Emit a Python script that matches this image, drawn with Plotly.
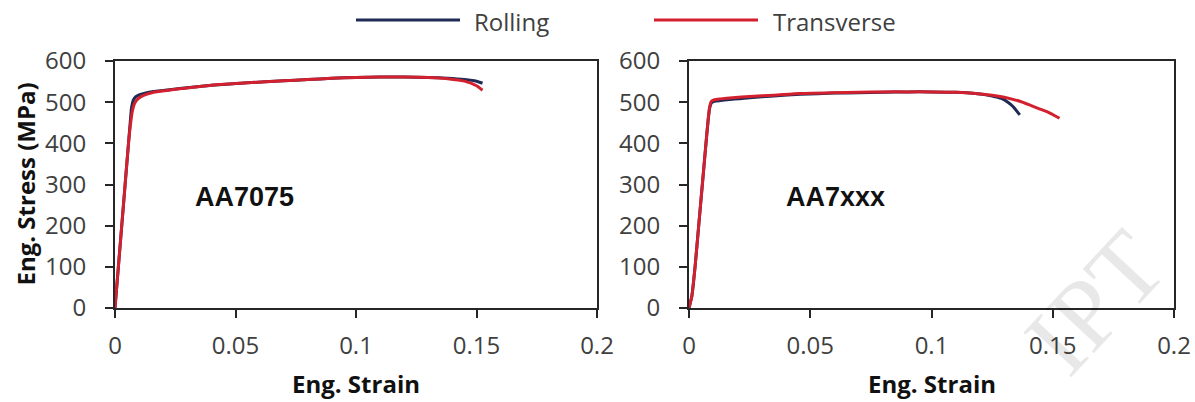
import plotly.graph_objects as go

# ---- AA7075 tensile curves ----
aa7075_rolling_strain = [0, 0.0014, 0.0028, 0.0042, 0.0056, 0.0063, 0.0069, 0.0076, 0.0085, 0.0100,
                         0.0124, 0.016, 0.0207, 0.0277, 0.04, 0.055, 0.07, 0.08, 0.09, 0.10,
                         0.11, 0.12, 0.13, 0.138, 0.145, 0.150, 0.1525]
aa7075_rolling_stress = [0, 100, 200, 300, 400, 450, 488, 505, 513, 518,
                         522, 526, 529, 534, 541, 547, 552, 555, 558, 560,
                         561, 561, 560, 558, 555, 551, 546]

aa7075_transverse_strain = [0, 0.0014, 0.0028, 0.0042, 0.0056, 0.0064, 0.0072, 0.0082, 0.0095, 0.011,
                            0.013, 0.016, 0.0207, 0.0277, 0.04, 0.055, 0.07, 0.08, 0.09, 0.10,
                            0.11, 0.12, 0.13, 0.138, 0.145, 0.150, 0.1525]
aa7075_transverse_stress = [0, 100, 200, 300, 400, 445, 478, 498, 508, 514,
                            519, 524, 528, 533, 541, 547, 552, 555, 558, 560,
                            561, 561, 560, 557, 551, 540, 529]

# ---- AA7xxx tensile curves ----
aa7xxx_rolling_strain = [0, 0.0012, 0.0025, 0.004, 0.0055, 0.007, 0.0078, 0.0085, 0.0092, 0.0105,
                         0.013, 0.018, 0.025, 0.035, 0.046, 0.06, 0.07, 0.08, 0.09, 0.10,
                         0.11, 0.12, 0.125, 0.1288, 0.1315, 0.1337, 0.1364]
aa7xxx_rolling_stress = [0, 30, 100, 200, 300, 400, 450, 485, 498, 502,
                         504, 507, 511, 515, 519, 522, 523, 524, 525, 525,
                         524, 520, 515, 509, 500, 489, 469]

aa7xxx_transverse_strain = [0, 0.0012, 0.0025, 0.004, 0.0055, 0.007, 0.0078, 0.0085, 0.0092, 0.0105,
                            0.013, 0.018, 0.025, 0.035, 0.046, 0.06, 0.07, 0.08, 0.09, 0.10,
                            0.11, 0.12, 0.125, 0.130, 0.137, 0.144, 0.148, 0.1528]
aa7xxx_transverse_stress = [0, 30, 100, 200, 300, 400, 452, 488, 502, 506,
                            508, 511, 514, 517, 521, 523, 524, 525, 525, 525,
                            524, 520, 517, 512, 501, 485, 476, 461]

x_ticks = [0, 0.05, 0.1, 0.15, 0.2]
x_tick_text = ["0", "0.05", "0.1", "0.15", "0.2"]
y_ticks = [0, 100, 200, 300, 400, 500, 600]

series_names = ["Rolling", "Transverse"]
ROLL_COLOR = "#1f2b55"
TRANS_COLOR = "#d2202f"

W, H = 1195, 402
TICK_FONT = dict(family="Open Sans", size=24, color="#404040")
TITLE_FONT = dict(family="Open Sans", size=24, color="#111111")


def px_x(v):
    return v / W


def px_y(v):
    return 1 - v / H


fig = go.Figure()

panels = [
    ("x", "y", aa7075_rolling_strain, aa7075_rolling_stress, aa7075_transverse_strain, aa7075_transverse_stress),
    ("x2", "y2", aa7xxx_rolling_strain, aa7xxx_rolling_stress, aa7xxx_transverse_strain, aa7xxx_transverse_stress),
]
for xa, ya, rx, ry, tx, ty in panels:
    fig.add_trace(go.Scatter(x=rx, y=ry, mode="lines", name=series_names[0], xaxis=xa, yaxis=ya,
                             line=dict(color=ROLL_COLOR, width=3, shape="spline", smoothing=0.6),
                             showlegend=False))
    fig.add_trace(go.Scatter(x=tx, y=ty, mode="lines", name=series_names[1], xaxis=xa, yaxis=ya,
                             line=dict(color=TRANS_COLOR, width=3, shape="spline", smoothing=0.6),
                             showlegend=False))

axis_common = dict(showgrid=False, zeroline=False, showline=True, mirror=True,
                   linecolor="#262626", linewidth=2, ticks="outside", ticklen=8,
                   tickwidth=2, tickcolor="#262626", tickfont=TICK_FONT)

left_dom = [px_x(115), px_x(597)]
right_dom = [px_x(689), px_x(1174)]
y_dom = [px_y(308), px_y(61)]

fig.update_layout(
    width=W, height=H,
    margin=dict(l=0, r=0, t=0, b=0, autoexpand=False),
    paper_bgcolor="white", plot_bgcolor="white",
    xaxis=dict(domain=left_dom, range=[0, 0.2], tickvals=x_ticks, ticktext=x_tick_text,
               anchor="y", ticklabelstandoff=7, **axis_common),
    yaxis=dict(domain=y_dom, range=[0, 600], tickvals=y_ticks, anchor="x",
               ticklabelstandoff=14, **axis_common),
    xaxis2=dict(domain=right_dom, range=[0, 0.2], tickvals=x_ticks, ticktext=x_tick_text,
                anchor="y2", ticklabelstandoff=7, **axis_common),
    yaxis2=dict(domain=y_dom, range=[0, 600], tickvals=y_ticks, anchor="x2",
                ticklabelstandoff=14, **axis_common),
)

# Legend drawn as line samples plus labels across the top
legend_items = [(356, 460, 472, series_names[0], ROLL_COLOR),
                (654, 758, 771, series_names[1], TRANS_COLOR)]
for x0, x1, tx, label, col in legend_items:
    fig.add_shape(type="line", xref="paper", yref="paper",
                  x0=px_x(x0), x1=px_x(x1), y0=px_y(20), y1=px_y(20),
                  line=dict(color=col, width=3))
    fig.add_annotation(xref="paper", yref="paper", x=px_x(tx), y=px_y(21),
                       xanchor="left", yanchor="middle", showarrow=False,
                       text=label, font=dict(family="Open Sans", size=24, color="#404040"))

# Axis titles
fig.add_annotation(xref="paper", yref="paper", x=px_x(25), y=px_y(184.5), textangle=-90,
                   xanchor="center", yanchor="middle", showarrow=False,
                   text="<b>Eng. Stress (MPa)</b>", font=TITLE_FONT)
for cx in (356, 931.5):
    fig.add_annotation(xref="paper", yref="paper", x=px_x(cx), y=px_y(383),
                       xanchor="center", yanchor="middle", showarrow=False,
                       text="<b>Eng. Strain</b>", font=TITLE_FONT)

# Alloy labels inside each panel
for cx, name in ((244, "AA7075"), (835, "AA7xxx")):
    fig.add_annotation(xref="paper", yref="paper", x=px_x(cx), y=px_y(197),
                       xanchor="center", yanchor="middle", showarrow=False,
                       text=f"<b>{name}</b>",
                       font=dict(family="Liberation Sans", size=27, color="#111111"))

# Faint diagonal watermark in the lower-right corner, kept inside the page
fig.add_annotation(xref="paper", yref="paper", x=px_x(1095), y=px_y(302), textangle=-47,
                   xanchor="center", yanchor="middle", showarrow=False,
                   text="IPT", font=dict(family="Liberation Serif", size=100,
                                         color="rgba(0,0,0,0.09)"))

# Page without body margin or scrollbars so the figure fills the window exactly
fig.write_html("out.html",
               post_script="document.body.style.margin='0';"
                           "document.body.style.overflow='hidden';")
